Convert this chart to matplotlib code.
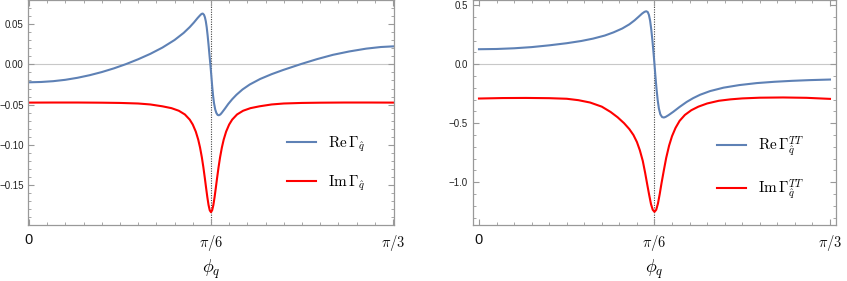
import numpy as np
import matplotlib
matplotlib.use("Agg")
import matplotlib.pyplot as plt
from matplotlib.ticker import MultipleLocator, FixedLocator

plt.rcParams['font.family'] = ['Liberation Sans', 'DejaVu Sans']
plt.rcParams['mathtext.fontset'] = 'cm'

# angles in degrees (converted to radians below)
re_l_deg = [0, 2, 4, 6, 8, 10, 12, 14, 16, 18, 20, 22, 24, 25.5, 26.5, 27.2, 27.8, 28.2,
            28.45, 28.65, 28.85, 29.0, 29.15, 29.3, 29.45, 29.6, 29.75, 29.9, 30.05, 30.2,
            30.35, 30.5, 30.7, 30.9, 31.1, 31.3, 31.55, 31.8, 32.3, 32.85, 33.5, 34.2, 35.2,
            36.4, 38.1, 40, 41.9, 43.5, 44.9, 47.5, 50.1, 52.8, 55.6, 58, 60]
re_l = [-0.0223, -0.0219, -0.0209, -0.0192, -0.0167, -0.0135, -0.0096, -0.0050, 0.0003,
        0.0063, 0.0130, 0.0208, 0.0302, 0.0390, 0.0462, 0.0520, 0.0575, 0.0608, 0.0626,
        0.0630, 0.0615, 0.0585, 0.0535, 0.0460, 0.0360, 0.0245, 0.0120, 0.0, -0.0130,
        -0.0270, -0.0390, -0.0480, -0.0560, -0.0605, -0.0628, -0.0632, -0.0622, -0.0600,
        -0.0550, -0.0492, -0.0433, -0.0378, -0.0312, -0.0250, -0.0182, -0.0122, -0.0070,
        -0.0030, 0.0005, 0.0065, 0.0118, 0.0160, 0.0195, 0.0215, 0.0223]

im_l_deg = [0, 4, 8, 12, 15, 18, 20, 22, 23.5, 24.7, 25.7, 26.5, 27.0, 27.5, 27.9, 28.2,
            28.5, 28.75, 29.0, 29.2, 29.4, 29.6, 29.8, 30.0, 30.2, 30.4, 30.6, 30.8, 31.0,
            31.25, 31.5, 31.8, 32.1, 32.5, 33.0, 33.5, 34.3, 35.3, 36.5, 38, 40, 42, 45,
            48, 52, 56, 60]
im_l = [-0.0475, -0.0474, -0.0474, -0.0476, -0.0479, -0.0486, -0.0498, -0.0521, -0.0544,
        -0.0576, -0.0622, -0.0686, -0.0747, -0.0835, -0.0934, -0.1032, -0.1155, -0.1278,
        -0.1417, -0.1534, -0.1647, -0.1745, -0.1811, -0.1835, -0.1811, -0.1745, -0.1647,
        -0.1534, -0.1417, -0.1278, -0.1155, -0.1032, -0.0934, -0.0835, -0.0747, -0.0686,
        -0.0622, -0.0576, -0.0544, -0.0521, -0.0498, -0.0486, -0.0479, -0.0476, -0.0474,
        -0.0474, -0.0475]

re_r_deg = [0, 3, 6, 9, 12, 15, 17.5, 19.5, 21.5, 23, 24.5, 25.7, 26.6, 27.3, 27.9, 28.3,
            28.6, 28.85, 29.05, 29.25, 29.45, 29.65, 29.85, 30.0, 30.15, 30.35, 30.55, 30.75,
            31.0, 31.3, 31.6, 31.9, 32.4, 33.2, 34.3, 35.5, 36.6, 37.8, 39.5, 41.8, 44.5,
            47.5, 50.5, 53.5, 56.5, 60]
re_r = [0.127, 0.129, 0.135, 0.145, 0.160, 0.178, 0.197, 0.217, 0.243, 0.270, 0.303, 0.338,
        0.372, 0.403, 0.430, 0.444, 0.449, 0.442, 0.418, 0.370, 0.295, 0.200, 0.090, 0.0,
        -0.095, -0.210, -0.305, -0.375, -0.425, -0.448, -0.452, -0.447, -0.432, -0.404,
        -0.362, -0.320, -0.288, -0.259, -0.228, -0.199, -0.177, -0.160, -0.149, -0.141,
        -0.135, -0.130]

im_r_deg = [0, 4, 8, 12, 15, 17, 19, 21, 22.5, 23.7, 24.8, 25.7, 26.4, 27.0, 27.5, 28.0,
            28.4, 28.8, 29.1, 29.4, 29.7, 30.0, 30.3, 30.6, 30.9, 31.2, 31.6, 32.0, 32.5,
            33.0, 33.6, 34.3, 35.2, 36.3, 37.5, 39, 41, 43, 45, 48, 52, 56, 60]
im_r = [-0.291, -0.287, -0.286, -0.288, -0.293, -0.305, -0.325, -0.360, -0.405, -0.450,
        -0.500, -0.550, -0.600, -0.660, -0.730, -0.820, -0.920, -1.030, -1.110, -1.185,
        -1.234, -1.252, -1.234, -1.180, -1.100, -1.010, -0.900, -0.795, -0.690, -0.610,
        -0.540, -0.480, -0.430, -0.390, -0.360, -0.333, -0.310, -0.298, -0.290, -0.284,
        -0.282, -0.285, -0.294]

xtick_pos = [0, np.pi / 6, np.pi / 3]
xtick_lab = ['0', r'$\pi/6$', r'$\pi/3$']

blue = '#5e81b5'
red = '#ff0000'
framec = '#999999'

fig = plt.figure(figsize=(8.47, 2.81), dpi=100)
ax1 = fig.add_axes([0.0336, 0.199, 0.4315, 0.800])
ax2 = fig.add_axes([0.5584, 0.199, 0.4286, 0.800])


def style(ax, ylim, xlim, ymaj, ymin, yfmt, labs, legx):
    ax.set_xlim(*xlim)
    ax.set_ylim(*ylim)
    ax.axhline(0, color='#c8c8c8', lw=0.8, zorder=1)
    ax.axvline(np.pi / 6, color='#444444', lw=0.8, ls=(0, (1, 1.2)), zorder=1)
    ax.xaxis.set_major_locator(FixedLocator(xtick_pos))
    ax.set_xticklabels(xtick_lab)
    ax.xaxis.set_minor_locator(MultipleLocator(np.pi / 60))
    ax.yaxis.set_major_locator(MultipleLocator(ymaj))
    ax.yaxis.set_minor_locator(MultipleLocator(ymin))
    ax.yaxis.set_major_formatter(plt.FuncFormatter(lambda v, p: yfmt.format(v).replace('-', '\u2212')))
    for s in ax.spines.values():
        s.set_color(framec)
        s.set_linewidth(0.9)
    ax.tick_params(which='both', direction='in', top=True, right=True, color=framec)
    ax.tick_params(which='major', length=4.5, width=0.8)
    ax.tick_params(which='minor', length=2.5, width=0.6)
    ax.tick_params(axis='y', labelsize=7, pad=3.5, labelcolor='#222222')
    ax.tick_params(axis='x', labelsize=10.5, pad=6, labelcolor='#111111')
    ax.set_xlabel(r'$\phi_q$', fontsize=13, labelpad=3)
    ax.legend(handles=labs, loc='upper left', bbox_to_anchor=(legx, 0.43), borderaxespad=0,
              frameon=False, fontsize=11, handlelength=1.9, handletextpad=0.8,
              labelspacing=1.25)


l1, = ax1.plot(np.deg2rad(re_l_deg), re_l, color=blue, lw=1.5, label=r'$\mathrm{Re}\,\Gamma_{\hat{q}}$')
l2, = ax1.plot(np.deg2rad(im_l_deg), im_l, color=red, lw=1.5, label=r'$\mathrm{Im}\,\Gamma_{\hat{q}}$')
style(ax1, (-0.1995, 0.0795), (np.deg2rad(-0.08), np.deg2rad(60.16)), 0.05, 0.01, '{:.2f}',
      [l1, l2], 0.69)

l3, = ax2.plot(np.deg2rad(re_r_deg), re_r, color=blue, lw=1.5, label=r'$\mathrm{Re}\,\Gamma_{\hat{q}}^{TT}$')
l4, = ax2.plot(np.deg2rad(im_r_deg), im_r, color=red, lw=1.5, label=r'$\mathrm{Im}\,\Gamma_{\hat{q}}^{TT}$')
style(ax2, (-1.364, 0.542), (np.deg2rad(-1.03), np.deg2rad(61.03)), 0.5, 0.1, '{:.1f}',
      [l3, l4], 0.655)

fig.savefig('out.png', dpi=100)
